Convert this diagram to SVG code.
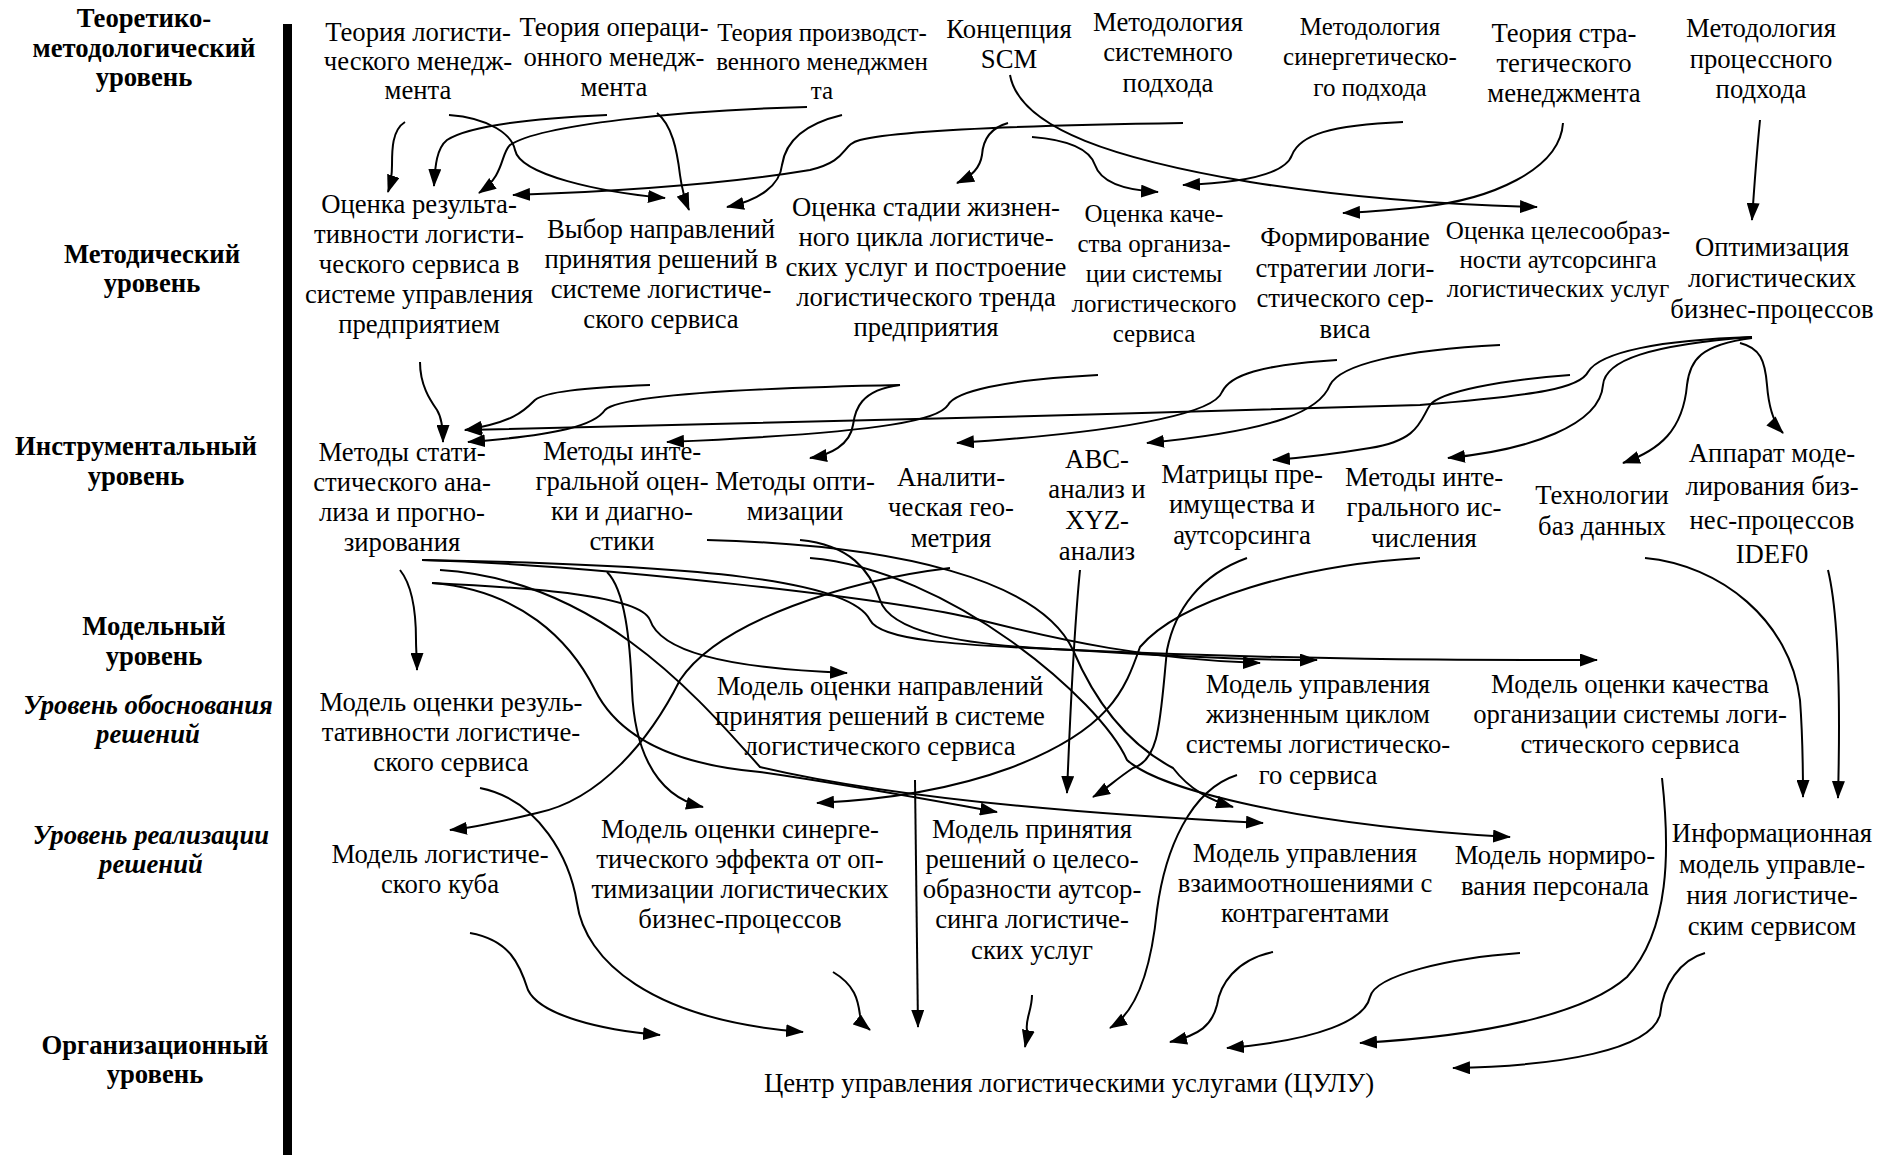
<svg xmlns="http://www.w3.org/2000/svg" width="1894" height="1155" viewBox="0 0 1894 1155">
<defs>
<marker id="ar" viewBox="0 0 18 13" refX="17" refY="6.5" markerWidth="18" markerHeight="13" markerUnits="userSpaceOnUse" orient="auto">
<path d="M0,0 L18,6.5 L0,13 z" fill="#000"/>
</marker>
<style>
text{font-family:"Liberation Serif","Times New Roman",serif;font-size:26.7px;fill:#000}
.n text{text-anchor:middle}
.n .s text{font-size:25px}
.lv{font-weight:bold;text-anchor:middle}
.lvi{font-weight:bold;font-style:italic;text-anchor:middle}
.c path{fill:none;stroke:#000;stroke-width:2;marker-end:url(#ar)}
</style>
</defs>
<rect width="1894" height="1155" fill="#fff"/>
<rect x="283" y="24" width="9" height="1131" fill="#000"/>
<g id="levels">
<text class="lv" x="144" y="27">Теоретико-</text>
<text class="lv" x="144" y="57">методологический</text>
<text class="lv" x="144" y="86">уровень</text>
<text class="lv" x="152" y="263">Методический</text>
<text class="lv" x="152" y="292">уровень</text>
<text class="lv" x="136" y="455">Инструментальный</text>
<text class="lv" x="136" y="485">уровень</text>
<text class="lv" x="154" y="635">Модельный</text>
<text class="lv" x="154" y="665">уровень</text>
<text class="lvi" x="148" y="714">Уровень обоснования</text>
<text class="lvi" x="148" y="743">решений</text>
<text class="lvi" x="151" y="844">Уровень реализации</text>
<text class="lvi" x="151" y="873">решений</text>
<text class="lv" x="155" y="1054">Организационный</text>
<text class="lv" x="155" y="1083">уровень</text>
</g>
<g class="n">
<g id="n1"><text x="418" y="41">Теория логисти-</text><text x="418" y="70">ческого менедж-</text><text x="418" y="99">мента</text></g>
<g id="n2"><text x="614" y="36">Теория операци-</text><text x="614" y="66">онного менедж-</text><text x="614" y="96">мента</text></g>
<g id="n3" class="s"><text x="822" y="41">Теория производст-</text><text x="822" y="70">венного менеджмен</text><text x="822" y="99">та</text></g>
<g id="n4"><text x="1009" y="38">Концепция</text><text x="1009" y="68">SCM</text></g>
<g id="n5"><text x="1168" y="31">Методология</text><text x="1168" y="61">системного</text><text x="1168" y="92">подхода</text></g>
<g id="n6" class="s"><text x="1370" y="35">Методология</text><text x="1370" y="65">синергетическо-</text><text x="1370" y="96">го подхода</text></g>
<g id="n7"><text x="1564" y="42">Теория стра-</text><text x="1564" y="72">тегического</text><text x="1564" y="102">менеджмента</text></g>
<g id="n8"><text x="1761" y="37">Методология</text><text x="1761" y="68">процессного</text><text x="1761" y="98">подхода</text></g>
<g id="n9"><text x="419" y="213">Оценка результа-</text><text x="419" y="243">тивности логисти-</text><text x="419" y="273">ческого сервиса в</text><text x="419" y="303">системе управления</text><text x="419" y="333">предприятием</text></g>
<g id="n10"><text x="661" y="238">Выбор направлений</text><text x="661" y="268">принятия решений в</text><text x="661" y="298">системе логистиче-</text><text x="661" y="328">ского сервиса</text></g>
<g id="n11"><text x="926" y="216">Оценка стадии жизнен-</text><text x="926" y="246">ного цикла логистиче-</text><text x="926" y="276">ских услуг и построение</text><text x="926" y="306">логистического тренда</text><text x="926" y="336">предприятия</text></g>
<g id="n12" class="s"><text x="1154" y="222">Оценка каче-</text><text x="1154" y="252">ства организа-</text><text x="1154" y="282">ции системы</text><text x="1154" y="312">логистического</text><text x="1154" y="342">сервиса</text></g>
<g id="n13"><text x="1345" y="246">Формирование</text><text x="1345" y="277">стратегии логи-</text><text x="1345" y="307">стического сер-</text><text x="1345" y="338">виса</text></g>
<g id="n14" class="s"><text x="1558" y="239">Оценка целесообраз-</text><text x="1558" y="268">ности аутсорсинга</text><text x="1558" y="297">логистических услуг</text></g>
<g id="n15"><text x="1772" y="256">Оптимизация</text><text x="1772" y="287">логистических</text><text x="1772" y="318">бизнес-процессов</text></g>
<g id="n16"><text x="402" y="461">Методы стати-</text><text x="402" y="491">стического ана-</text><text x="402" y="521">лиза и прогно-</text><text x="402" y="551">зирования</text></g>
<g id="n17"><text x="622" y="460">Методы инте-</text><text x="622" y="490">гральной оцен-</text><text x="622" y="520">ки и диагно-</text><text x="622" y="550">стики</text></g>
<g id="n18"><text x="795" y="490">Методы опти-</text><text x="795" y="520">мизации</text></g>
<g id="n19"><text x="951" y="486">Аналити-</text><text x="951" y="516">ческая гео-</text><text x="951" y="547">метрия</text></g>
<g id="n20"><text x="1097" y="468">ABC-</text><text x="1097" y="498">анализ и</text><text x="1097" y="529">XYZ-</text><text x="1097" y="560">анализ</text></g>
<g id="n21"><text x="1242" y="483">Матрицы пре-</text><text x="1242" y="513">имущества и</text><text x="1242" y="544">аутсорсинга</text></g>
<g id="n22"><text x="1424" y="486">Методы инте-</text><text x="1424" y="516">грального ис-</text><text x="1424" y="547">числения</text></g>
<g id="n23"><text x="1602" y="504">Технологии</text><text x="1602" y="535">баз данных</text></g>
<g id="n24"><text x="1772" y="462">Аппарат моде-</text><text x="1772" y="495">лирования биз-</text><text x="1772" y="529">нес-процессов</text><text x="1772" y="563">IDEF0</text></g>
<g id="n25"><text x="451" y="711">Модель оценки резуль-</text><text x="451" y="741">тативности логистиче-</text><text x="451" y="771">ского сервиса</text></g>
<g id="n26"><text x="880" y="695">Модель оценки направлений</text><text x="880" y="725">принятия решений в системе</text><text x="880" y="755">логистического сервиса</text></g>
<g id="n27"><text x="1318" y="693">Модель управления</text><text x="1318" y="723">жизненным циклом</text><text x="1318" y="753">системы логистическо-</text><text x="1318" y="784">го сервиса</text></g>
<g id="n28"><text x="1630" y="693">Модель оценки качества</text><text x="1630" y="723">организации системы логи-</text><text x="1630" y="753">стического сервиса</text></g>
<g id="n29"><text x="440" y="863">Модель логистиче-</text><text x="440" y="893">ского куба</text></g>
<g id="n30"><text x="740" y="838">Модель оценки синерге-</text><text x="740" y="868">тического эффекта от оп-</text><text x="740" y="898">тимизации логистических</text><text x="740" y="928">бизнес-процессов</text></g>
<g id="n31"><text x="1032" y="838">Модель принятия</text><text x="1032" y="868">решений о целесо-</text><text x="1032" y="898">образности аутсор-</text><text x="1032" y="928">синга логистиче-</text><text x="1032" y="959">ских услуг</text></g>
<g id="n32"><text x="1305" y="862">Модель управления</text><text x="1305" y="892">взаимоотношениями с</text><text x="1305" y="922">контрагентами</text></g>
<g id="n33"><text x="1555" y="864">Модель нормиро-</text><text x="1555" y="895">вания персонала</text></g>
<g id="n34"><text x="1772" y="842">Информационная</text><text x="1772" y="873">модель управле-</text><text x="1772" y="904">ния логистиче-</text><text x="1772" y="935">ским сервисом</text></g>
<g id="n35"><text x="1069" y="1092">Центр управления логистическими услугами (ЦУЛУ)</text></g>
</g>
<g class="c" id="connectors">
<path d="M405,122 C392,130 392,150 392,165 C392,175 391,183 388,192"/>
<path d="M449,115 C490,118 512,135 515,150 C520,175 600,192 665,198"/>
<path d="M607,115 C540,118 470,125 447,140 C437,148 435,165 434,186"/>
<path d="M807,107 C680,110 540,125 510,145 C500,155 505,175 479,193"/>
<path d="M1183,123 C1050,125 900,130 860,140 C840,145 850,160 810,170 C720,185 600,192 513,195"/>
<path d="M657,113 C672,125 677,150 680,175 C682,190 685,200 689,210"/>
<path d="M842,115 C800,125 785,145 782,165 C780,185 760,200 727,207"/>
<path d="M1008,123 C990,128 983,140 982,155 C980,168 972,176 957,183"/>
<path d="M1032,137 C1070,140 1090,150 1095,165 C1100,180 1120,190 1158,192"/>
<path d="M1403,122 C1330,125 1300,135 1292,155 C1285,175 1240,183 1183,185"/>
<path d="M1563,123 C1560,170 1490,200 1420,207 C1390,210 1370,212 1343,213"/>
<path d="M1010,75 C1020,130 1120,160 1250,182 C1350,198 1450,205 1537,207"/>
<path d="M1760,120 C1756,160 1754,190 1752,220"/>
<path d="M420,362 C420,385 430,400 437,410 C442,418 443,430 443,442"/>
<path d="M650,385 C580,388 545,392 535,400 C525,410 515,422 465,430"/>
<path d="M900,385 C750,388 620,395 605,410 C595,425 560,435 468,442"/>
<path d="M900,385 C860,390 855,410 853,425 C850,445 830,455 810,458"/>
<path d="M1098,375 C1000,380 955,392 948,405 C940,418 900,432 667,442"/>
<path d="M1752,337 C1660,340 1600,352 1588,372 C1580,388 1540,395 1420,405 C1100,415 700,425 465,430"/>
<path d="M1337,360 C1260,365 1230,375 1222,392 C1215,410 1150,430 957,443"/>
<path d="M1500,345 C1400,350 1340,365 1330,385 C1320,410 1280,430 1147,443"/>
<path d="M1570,375 C1500,380 1440,392 1430,405 C1420,420 1420,440 1370,448 C1340,453 1300,458 1273,460"/>
<path d="M1752,337 C1650,345 1605,360 1603,385 C1600,425 1530,450 1448,458"/>
<path d="M1752,338 C1700,345 1690,360 1687,385 C1683,430 1660,450 1623,463"/>
<path d="M1740,343 C1760,348 1765,360 1767,385 C1769,410 1775,425 1783,433"/>
<path d="M400,570 C412,585 416,610 416,640 C416,650 417,660 417,670"/>
<path d="M432,583 C530,588 640,595 650,620 C660,650 720,668 847,673"/>
<path d="M607,572 C625,590 630,640 632,690 C634,740 650,795 703,807"/>
<path d="M432,583 C520,590 570,640 595,690 C620,740 680,765 760,772 C850,785 930,800 997,812"/>
<path d="M422,560 C600,565 900,600 980,620 C1060,640 1150,660 1260,663"/>
<path d="M800,540 C850,545 870,570 880,600 C890,630 950,645 1073,650 C1150,655 1250,660 1317,660"/>
<path d="M422,560 C700,565 850,580 870,620 C880,640 950,645 1073,650 C1300,660 1450,660 1597,660"/>
<path d="M707,540 C900,545 1040,580 1073,650 C1090,690 1120,740 1173,768 C1190,790 1210,800 1233,807"/>
<path d="M440,570 C600,580 700,700 760,767 C900,800 1100,815 1263,823"/>
<path d="M810,558 C950,570 1100,700 1127,760 C1160,790 1300,825 1510,837"/>
<path d="M950,568 C850,580 720,620 680,680 C650,740 600,800 537,813 C500,822 470,828 450,830"/>
<path d="M1420,558 C1300,565 1180,600 1140,647 C1125,690 1110,730 1010,768 C950,790 880,800 817,803"/>
<path d="M1080,570 C1073,640 1070,720 1067,793"/>
<path d="M1247,558 C1200,575 1175,610 1167,650 C1160,720 1160,760 1133,768 C1115,780 1105,790 1093,797"/>
<path d="M1645,558 C1720,565 1790,620 1800,700 C1803,740 1803,770 1803,797"/>
<path d="M1828,570 C1840,620 1840,720 1838,798"/>
<path d="M470,933 C510,940 520,965 528,990 C540,1015 600,1030 660,1035"/>
<path d="M480,788 C540,800 570,860 577,903 C585,960 650,1020 803,1032"/>
<path d="M833,972 C855,985 858,1000 860,1015 C862,1022 865,1026 870,1030"/>
<path d="M915,780 C916,880 917,960 918,1027"/>
<path d="M1032,995 C1032,1010 1025,1020 1027,1030 C1027,1036 1026,1042 1025,1047"/>
<path d="M1237,775 C1190,790 1165,850 1157,910 C1152,960 1140,1010 1110,1028"/>
<path d="M1273,952 C1235,960 1220,985 1217,1005 C1212,1025 1200,1035 1170,1042"/>
<path d="M1520,953 C1450,958 1375,975 1370,997 C1365,1020 1320,1040 1227,1048"/>
<path d="M1662,778 C1670,850 1670,930 1627,977 C1590,1010 1500,1035 1360,1043"/>
<path d="M1705,953 C1680,960 1663,985 1660,1015 C1650,1050 1560,1066 1453,1068"/>
</g>
</svg>
